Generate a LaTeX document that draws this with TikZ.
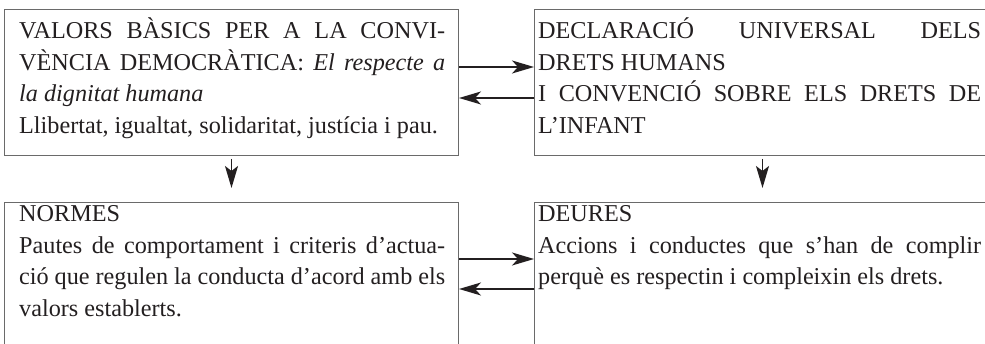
\documentclass[tikz,border=0pt]{standalone}
\usepackage{fontspec}
\setmainfont{Liberation Serif}
\usetikzlibrary{arrows.meta}
\newcommand\jline[1]{\makebox[\linewidth][s]{#1}}
\definecolor{ink}{HTML}{231F20}
\definecolor{frame}{HTML}{6A6A6A}
\tikzset{
  boxnode/.style={draw=frame, line width=1pt, rectangle, inner sep=0pt, anchor=north west},
  txt/.style={inner sep=0pt, anchor=base west, text=ink, font=\fontsize{24.2}{31.5}\selectfont},
  harr/.style={draw=ink, line width=1.8pt, -{Stealth[length=22pt,width=13pt,inset=6pt]}},
  varr/.style={draw=ink, line width=1.6pt, -{Stealth[length=22pt,width=13pt,inset=5pt]}}
}
\begin{document}
\begin{tikzpicture}[x=1pt,y=-1pt]
\useasboundingbox (0,0) rectangle (985,344);
\clip (0,0) rectangle (985,344);
\fill[white] (0,0) rectangle (985,344);
% boxes
\node[boxnode, minimum width=454pt, minimum height=146pt] (b1) at (4,9) {};
\node[boxnode, minimum width=456pt, minimum height=146pt] (b2) at (534,9) {};
\node[boxnode, minimum width=454pt, minimum height=170pt] (b3) at (4,202) {};
\node[boxnode, minimum width=456pt, minimum height=170pt] (b4) at (534,202) {};
% texts
\node[txt] (t1) at (19,39) {\parbox[t]{426pt}{%
\jline{VALORS BÀSICS PER A LA CONVI-}\\
\jline{VÈNCIA DEMOCRÀTICA: \textit{El respecte a}}\\
\textit{la dignitat humana}\\
Llibertat, igualtat, solidaritat, justícia i pau.}};
\node[txt] (t2) at (538,39) {\parbox[t]{443pt}{%
\jline{DECLARACIÓ UNIVERSAL DELS}\\
DRETS HUMANS\\
\jline{I CONVENCIÓ SOBRE ELS DRETS DE}\\
L’INFANT}};
\node[txt] (t3) at (19,222) {\parbox[t]{426pt}{%
NORMES\\
\jline{Pautes de comportament i criteris d’actua-}\\
\jline{ció que regulen la conducta d’acord amb els}\\
valors establerts.}};
\node[txt] (t4) at (538,222) {\parbox[t]{443pt}{%
DEURES\\
\jline{Accions i conductes que s’han de complir}\\
perquè es respectin i compleixin els drets.}};
% arrows
\draw[harr] (b1.east |- 0,67) -- (b2.west |- 0,67);
\draw[harr] (b2.west |- 0,98) -- (b1.east |- 0,98);
\draw[harr] (b3.east |- 0,259) -- (b4.west |- 0,259);
\draw[harr] (b4.west |- 0,289) -- (b3.east |- 0,289);
\draw[varr] ([yshift=-3pt]b1.south) -- ([yshift=14pt]b3.north);
\draw[varr] ([yshift=-3pt]b2.south) -- ([yshift=14pt]b4.north);
\end{tikzpicture}
\end{document}
